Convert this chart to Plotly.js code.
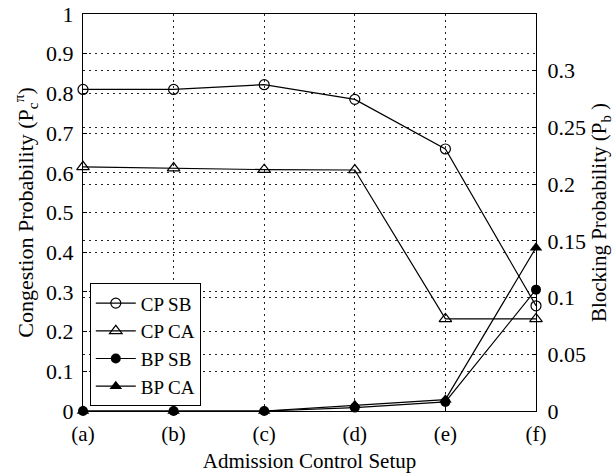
<!DOCTYPE html>
<html><head><meta charset="utf-8">
<script src="https://cdn.plot.ly/plotly-3.0.1.min.js"></script>
<style>body{margin:0;background:#fff}#c{width:616px;height:476px}</style>
</head><body><div id="c"></div>
<script>
const categories = ['(a)','(b)','(c)','(d)','(e)','(f)'];
const cpSB = [0.81, 0.81, 0.822, 0.785, 0.66, 0.265];
const cpCA = [0.615, 0.612, 0.608, 0.607, 0.232, 0.232];
const bpSB = [0, 0, 0, 0.003, 0.008, 0.107];
const bpCA = [0, 0, 0, 0.005, 0.010, 0.144];

const F = '"Liberation Serif", "Times New Roman", serif';
const ln = {color:'#000', width:1.2};
const traces = [
  {x:categories, y:cpSB, name:'CP SB', mode:'lines+markers', line:ln,
   marker:{symbol:'circle-open', size:10, color:'#000', line:{width:1.2}}, cliponaxis:false},
  {x:categories, y:cpCA, name:'CP CA', mode:'lines+markers', line:ln,
   marker:{symbol:'triangle-up-open', size:11, color:'#000', line:{width:1.2}}, cliponaxis:false},
  {x:categories, y:bpSB, name:'BP SB', mode:'lines+markers', line:ln, yaxis:'y2',
   marker:{symbol:'circle', size:10, color:'#000'}, cliponaxis:false},
  {x:categories, y:bpCA, name:'BP CA', mode:'lines+markers', line:ln, yaxis:'y2',
   marker:{symbol:'triangle-up', size:11, color:'#000'}, cliponaxis:false}
];
const grid = {showgrid:true, gridcolor:'#222', griddash:'2px,4px', gridwidth:1};
const layout = {
  width:616, height:476,
  margin:{l:83, r:80, t:14, b:65},
  paper_bgcolor:'#fff', plot_bgcolor:'#fff',
  font:{family:F, size:20, color:'#000'},
  showlegend:true,
  legend:{x:0.015, y:0.012, xanchor:'left', yanchor:'bottom', bordercolor:'#000', borderwidth:1,
    bgcolor:'#fff', font:{family:F, size:19}, tracegroupgap:0, itemwidth:40},
  xaxis:Object.assign({type:'category', range:[0,5], showline:true, linecolor:'#000', linewidth:1, mirror:true,
    ticks:'inside', ticklen:4, tickcolor:'#000', ticklabelstandoff:4,
    tickfont:{family:F, size:21}, zeroline:false,
    title:{text:'Admission Control Setup', font:{family:F, size:21}, standoff:8}}, grid),
  yaxis:Object.assign({range:[0,1], dtick:0.1, showline:true, linecolor:'#000', linewidth:1, mirror:false,
    ticks:'inside', ticklen:4, tickcolor:'#000', ticklabelstandoff:4,
    zeroline:false, tickfont:{family:F, size:22}, tickformat:'~g',
    title:{text:'Congestion Probability (P<sub>c</sub><sup>π</sup>)', font:{family:F, size:22}, standoff:6}}, grid),
  yaxis2:Object.assign({range:[0,0.35], overlaying:'y', side:'right', tickvals:[0,0.05,0.1,0.15,0.2,0.25,0.3],
    ticktext:['0','0.05','0.1','0.15','0.2','0.25','0.3'],
    showline:true, linecolor:'#000', linewidth:1,
    ticks:'inside', ticklen:4, tickcolor:'#000', ticklabelstandoff:6,
    zeroline:false, tickfont:{family:F, size:22},
    title:{text:'Blocking Probability (P<sub>b</sub> )', font:{family:F, size:21}, standoff:6}}, grid)
};
Plotly.newPlot('c', traces, layout, {displayModeBar:false, staticPlot:true});
</script></body></html>
